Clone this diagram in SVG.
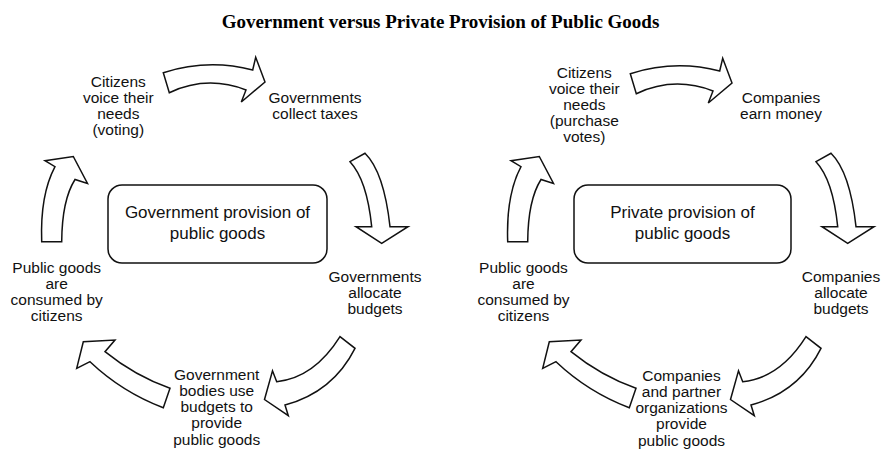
<svg xmlns="http://www.w3.org/2000/svg" width="882" height="450" viewBox="0 0 882 450">
<style>
.t{font-family:"Liberation Sans",Arial,sans-serif;font-size:15.5px;fill:#111;text-anchor:middle}
.bx{font-size:17px}
.title{font-family:"Liberation Serif","Times New Roman",serif;font-weight:bold;font-size:19px;text-anchor:middle;fill:#000}
.box{fill:#fff;stroke:#111;stroke-width:1.5}
.arr{fill:#fff;stroke:#111;stroke-width:1.5;stroke-linejoin:miter}
</style>
<defs>
<path id="a-top" class="arr" d="M163.3,72.7 Q208,58.5 252.7,70 L255.7,57.3 L265,82 L241.3,102 L246,90 Q207,75 169.3,92.7 Z"/>
<path id="a-right" class="arr" d="M350,161.7 Q367,180 371.7,226.7 L356,226.7 L381.7,243.3 L408,226.7 L390,226.7 Q384,172 365,153.3 Z"/>
<path id="a-bottomright" class="arr" d="M340,336.7 Q314,378 276.7,381.7 L272.5,370.8 L264.5,399.5 L288.3,415.7 L285,405 Q333,392 355,348.3 Z"/>
<path id="a-bottomleft" class="arr" d="M163.3,407.7 Q122,392 90,361.7 L76.7,368.3 L83.3,341.7 L115,340 L105,351.7 Q135,376 170,388.3 Z"/>
<path id="a-left" class="arr" d="M41.7,241.7 Q40,195 55,166.7 L45,160.7 L73.3,156.5 L87.5,183.5 L75,179.5 Q62,200 61.7,241.7 Z"/>
</defs>
<rect width="882" height="450" fill="#fff"/>
<text class="title" x="440.5" y="28">Government versus Private Provision of Public Goods</text>
<g id="connectors">
  <g id="connectors-government">
    <use href="#a-top"/>
    <use href="#a-right"/>
    <use href="#a-bottomright"/>
    <use href="#a-bottomleft"/>
    <use href="#a-left"/>
  </g>
  <g id="connectors-private" transform="translate(466,0)">
    <use href="#a-top" transform="translate(1,1)"/>
    <use href="#a-right"/>
    <use href="#a-bottomright"/>
    <use href="#a-bottomleft"/>
    <use href="#a-left"/>
  </g>
</g>
<g id="gov-center">
  <rect class="box" x="108" y="185" width="219" height="78" rx="14"/>
  <text class="t bx" x="217.5" y="218.3">Government provision of</text>
  <text class="t bx" x="217.5" y="238.5">public goods</text>
</g>
<g id="gov-voice">
  <text class="t" x="118.3" y="87.3">Citizens<tspan x="118.3" dy="16">voice their</tspan><tspan x="118.3" dy="16">needs</tspan><tspan x="118.3" dy="16">(voting)</tspan></text>
</g>
<g id="gov-taxes">
  <text class="t" x="315" y="103.3">Governments<tspan x="315" dy="16">collect taxes</tspan></text>
</g>
<g id="gov-allocate">
  <text class="t" x="375" y="281.5">Governments<tspan x="375" dy="16">allocate</tspan><tspan x="375" dy="16">budgets</tspan></text>
</g>
<g id="gov-provide">
  <text class="t" x="216.7" y="379.5">Government<tspan x="216.7" dy="16.25">bodies use</tspan><tspan x="216.7" dy="16.25">budgets to</tspan><tspan x="216.7" dy="16.25">provide</tspan><tspan x="216.7" dy="16.25">public goods</tspan></text>
</g>
<g id="gov-consume">
  <text class="t" x="56.7" y="273.3">Public goods<tspan x="56.7" dy="16">are</tspan><tspan x="56.7" dy="16">consumed by</tspan><tspan x="56.7" dy="16">citizens</tspan></text>
</g>
<g id="priv-center">
  <rect class="box" x="574" y="185" width="217" height="78" rx="14"/>
  <text class="t bx" x="682.5" y="218.3">Private provision of</text>
  <text class="t bx" x="682.5" y="238.5">public goods</text>
</g>
<g id="priv-voice">
  <text class="t" x="584.3" y="78.3">Citizens<tspan x="584.3" dy="16">voice their</tspan><tspan x="584.3" dy="16">needs</tspan><tspan x="584.3" dy="16">(purchase</tspan><tspan x="584.3" dy="16">votes)</tspan></text>
</g>
<g id="priv-earn">
  <text class="t" x="781" y="103.3">Companies<tspan x="781" dy="16">earn money</tspan></text>
</g>
<g id="priv-allocate">
  <text class="t" x="841" y="282.3">Companies<tspan x="841" dy="16">allocate</tspan><tspan x="841" dy="16">budgets</tspan></text>
</g>
<g id="priv-provide">
  <text class="t" x="681.5" y="380.5">Companies<tspan x="681.5" dy="16.25">and partner</tspan><tspan x="681.5" dy="16.25">organizations</tspan><tspan x="681.5" dy="16.25">provide</tspan><tspan x="681.5" dy="16.25">public goods</tspan></text>
</g>
<g id="priv-consume">
  <text class="t" x="523.5" y="273.3">Public goods<tspan x="523.5" dy="16">are</tspan><tspan x="523.5" dy="16">consumed by</tspan><tspan x="523.5" dy="16">citizens</tspan></text>
</g>
</svg>
